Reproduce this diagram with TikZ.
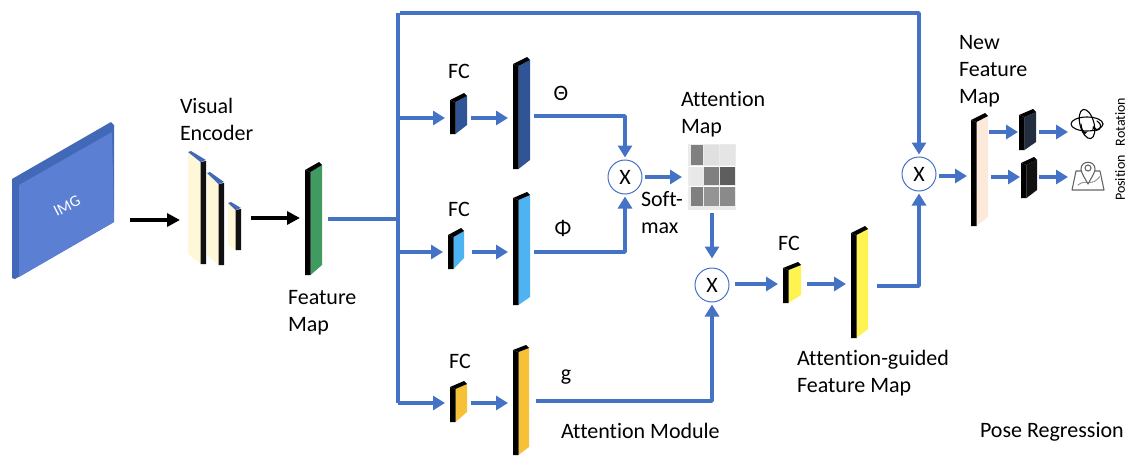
\documentclass[tikz,border=0pt]{standalone}
\usepackage{fontspec}
\setmainfont{Carlito}[Ligatures=NoCommon]
\usetikzlibrary{arrows.meta,calc}
\definecolor{flowblue}{HTML}{4472C4}
\definecolor{imgface}{HTML}{5B7FD3}
\definecolor{imgedge}{HTML}{4169B8}
\definecolor{cream}{HTML}{FFF8D8}
\definecolor{fmgreen}{HTML}{3F9B5F}
\definecolor{navy}{HTML}{2F5597}
\definecolor{skyb}{HTML}{4DB3F2}
\definecolor{amber}{HTML}{F7C137}
\definecolor{lemon}{HTML}{FFF44F}
\definecolor{peach}{HTML}{FCE9DA}
\definecolor{slate}{HTML}{222D3F}
\definecolor{ink}{HTML}{111111}
\tikzset{
  x=1pt,y=-1pt,
  flowline/.style={draw=flowblue,line width=3.6pt,line join=round},
  flow/.style={flowline,-{Triangle[length=12pt,width=14pt]},shorten <=4pt,shorten >=5pt},
  blackflow/.style={draw=black,line width=3.4pt,-{Triangle[length=13pt,width=13pt]},shorten <=4pt,shorten >=5pt},
  anchorbox/.style={inner sep=0pt,outer sep=0pt,minimum height=1pt},
  timesnode/.style={circle,draw=flowblue,line width=1pt,fill=white,minimum size=34pt,inner sep=0pt,font=\fontsize{22}{24}\selectfont},
  lab/.style={inner sep=0pt,outer sep=0pt,align=left,anchor=north west,font=\fontsize{22}{27}\selectfont},
  clab/.style={inner sep=0pt,outer sep=0pt,font=\fontsize{22}{26}\selectfont},
  icon/.style={draw=#1,line width=1.1pt,line cap=round,line join=round},
}
% name, xl, xr, y top-left, y top-right, y bottom-left, y bottom-right, y of node, face colour
\newcommand\slab[9]{%
  \fill[#9] ({#2+5.5},{#4+2}) -- ({#3},{#5+3}) -- ({#3},{#7}) -- ({#2+5.5},{#6}) -- cycle;
  \fill[black] ({#2},{#4}) -- ({#2+5.5},{#4+2}) -- ({#2+5.5},{#6}) -- ({#2},{#6}) -- cycle;
  \fill[black] ({#2},{#4}) -- ({#3-3},{#5}) -- ({#3},{#5+3}) -- ({#2+5.5},{#4+2}) -- cycle;
  \node[anchorbox,minimum width={(#3-#2)*1pt}] (#1) at ({(#2+#3)/2},{#8}) {};
}
% encoder block: face on the left, dark side on the right
\newcommand\eslab[8]{%
  \fill[cream] ({#2},{#4}) -- ({#3-5.5},{#5+2}) -- ({#3-5.5},{#7}) -- ({#2},{#6}) -- cycle;
  \fill[ink] ({#3-5.5},{#5+2}) -- ({#3},{#5+1}) -- ({#3},{#7}) -- ({#3-5.5},{#7}) -- cycle;
  \fill[imgedge] ({#2},{#4}) -- ({#2+3},{#4-1}) -- ({#3},{#5}) -- ({#3-5.5},{#5+2}) -- cycle;
  \node[anchorbox,minimum width={(#3-#2)*1pt}] (#1) at ({(#2+#3)/2},{#8}) {};
}
\begin{document}
\begin{tikzpicture}
\useasboundingbox (0,0) rectangle (1129,455);
% input image
\fill[imgedge] (12,179) -- (111,122) -- (114,125) -- (114,222) -- (15,279) -- (12,278) -- cycle;
\fill[imgface] (19,185) -- (112,132) -- (114,222) -- (19,277) -- cycle;
\node[anchorbox,minimum width=102pt] (img) at (63,220) {};
\node[clab,text=white,rotate=27,font=\fontsize{16}{18}\selectfont] (imgtext) at (67,206) {IMG};
% encoder
\eslab{enca}{188}{206}{152}{160}{254}{264}{220}
\eslab{encb}{207}{224}{173}{182}{255}{265}{220}
\eslab{encc}{228}{241}{203}{208}{245}{250}{218}
\node[lab] (encl) at (180,98) {Visual\\Encoder};
\slab{feat}{305}{322}{170}{162}{275}{265}{218}{fmgreen}
\node[lab] (featl) at (288,290) {Feature\\Map};
% branches
\slab{fca}{450}{467}{100}{93}{134}{125}{118}{navy}
\slab{biga}{513}{530}{64}{57}{169}{160}{118}{navy}
\slab{fcb}{448}{464}{235}{228}{269}{258}{252}{skyb}
\slab{bigb}{513}{530}{198}{192}{305}{297}{252}{skyb}
\slab{fcc}{450}{467}{387}{381}{422}{412}{403}{amber}
\slab{bigc}{513}{529}{350}{345}{455}{447}{403}{amber}
\node[clab] (fcal) at (459,71) {FC};
\node[clab] (fcbl) at (459,209) {FC};
\node[clab] (fccl) at (460,361) {FC};
\node[clab] (theta) at (561,93) {Θ};
\node[clab] (phi) at (563,228) {Φ};
\node[clab] (gl) at (566,377) {g};
\node[lab] (attmod) at (561,423) {Attention Module};
% product nodes
\node[timesnode] (xa) at (625,177) {X};
\node[timesnode] (xb) at (712,285) {X};
\node[timesnode] (xc) at (919,174) {X};
% attention map
\node[anchorbox,minimum width=48pt,minimum height=66pt,fill=black!8] (heat) at (712,177) {};
\fill[white] (688,165.5) rectangle (736,167);
\fill[white] (688,185.5) rectangle (736,187);
\fill[black!50] (691,145) rectangle (703,165);
\fill[black!12] (704,145) rectangle (719,165);
\fill[black!10] (720,145) rectangle (735,165);
\fill[black!9] (691,167) rectangle (703,185);
\fill[black!50] (704,167) rectangle (719,185);
\fill[black!63] (720,167) rectangle (735,185);
\fill[black!50] (691,187) rectangle (703,206);
\fill[black!42] (704,187) rectangle (719,206);
\fill[black!46] (720,187) rectangle (735,206);
\node[lab] (heatl) at (681,91) {Attention\\Map};
\node[lab] (softl) at (641,191) {Soft-\\max};
% attention-guided
\slab{fcd}{783}{801}{268}{262}{303}{295}{284}{lemon}
\slab{bigd}{851}{868}{233}{226}{338}{329}{284}{lemon}
\node[clab] (fcdl) at (789,243) {FC};
\node[lab] (guidel) at (797,350) {Attention-guided\\Feature Map};
% new feature map
\slab{newf}{971}{988}{120}{113}{226}{217}{176}{peach}
\node[lab] (newl) at (959,35) {New\\Feature\\Map};
\slab{dka}{1019}{1036}{115}{109}{150}{142}{132}{slate}
\slab{dkb}{1021}{1037}{163}{157}{198}{190}{177}{ink}
\node[anchorbox,minimum width=36pt,minimum height=34pt] (rot) at (1087,125) {};
\node[anchorbox,minimum width=36pt,minimum height=34pt] (pos) at (1088,178) {};
% rotation icon
\draw[icon=black] (1087,124) ellipse [x radius=16,y radius=7];
\draw[icon=black,rotate around={15:(1087,124)}] (1087,124) ellipse [x radius=7,y radius=15];
\draw[icon=black,-{Stealth[length=4pt,width=4.5pt]}] (1097,121) .. controls (1106,127) and (1096,134) .. (1093,126);
\draw[icon=black,-{Stealth[length=4pt,width=4.5pt]}] (1081,124) .. controls (1081,129) and (1084,133) .. (1087,132);
% position icon
\draw[icon=black!60,fill=white] (1076,171) -- (1100,171) -- (1104,190) -- (1072,190) -- cycle;
\draw[icon=black!45,densely dotted] (1078,185) .. controls (1086,178) and (1092,188) .. (1100,176);
\draw[icon=black!60,fill=white] (1088,184) .. controls (1083,175) and (1081,172) .. (1081,169) .. controls (1081,160) and (1095,160) .. (1095,169) .. controls (1095,172) and (1093,175) .. (1088,184) -- cycle;
\draw[icon=black!60] (1088,168) circle [radius=3];
\node[clab,rotate=90,font=\fontsize{14}{16}\selectfont] (rotl) at (1120,122) {Rotation};
\node[clab,rotate=90,font=\fontsize{14}{16}\selectfont] (posl) at (1120,178) {Position};
\node[lab] (posereg) at (980,422) {Pose Regression};
% junction coordinates
\coordinate (jt) at (398,13);
\coordinate (ja) at (398,118);
\coordinate (jm) at (398,219);
\coordinate (jb) at (398,252);
\coordinate (jc) at (398,403);
% connectors
\draw[blackflow,shorten <=16pt,shorten >=8pt] (img.east) -- (enca.west);
\draw[blackflow,shorten <=10pt,shorten >=5pt] (encc.east) -- (feat.west);
\draw[flowline,shorten <=6pt] (feat.east |- jm) -- (jm);
\draw[flowline] (jt) -- (jc);
\draw[flow,shorten <=1.5pt,shorten >=2pt] (jt) -| (xc.north);
\draw[flow,shorten <=0pt] (ja) -- (fca.west);
\draw[flow,shorten <=0pt] (jb) -- (fcb.west);
\draw[flow,shorten <=0pt] (jc) -- (fcc.west);
\draw[flow] (fca.east) -- (biga.west);
\draw[flow,shorten <=8pt] (fcb.east) -- (bigb.west);
\draw[flow] (fcc.east) -- (bigc.west);
\draw[flow,shorten >=2pt] ([yshift=2pt]biga.east) -| (xa.north);
\draw[flow,shorten >=2pt] (bigb.east) -| (xa.south);
\draw[flow,shorten >=2pt,shorten <=7pt] ([yshift=2pt]bigc.east) -| (xb.south);
\draw[flow,shorten <=2pt,shorten >=6pt] (xa.east) -- (heat.west);
\draw[flow,shorten <=3pt,shorten >=9pt] (heat.south) -- (xb.north);
\draw[flow,shorten <=5pt] (xb.east |- fcd) -- (fcd.west);
\draw[flow,shorten <=6pt] (fcd.east) -- (bigd.west);
\draw[flow,shorten >=2pt,shorten <=9pt] ([yshift=-2pt]bigd.east) -| (xc.south);
\draw[flow,shorten <=2pt,shorten >=4pt] (xc.east |- newf) -- (newf.west);
\draw[flow,shorten <=1pt,shorten >=1pt] (newf.east |- dka) -- (dka.west);
\draw[flow,shorten <=3pt,shorten >=1pt] (newf.east |- dkb) -- (dkb.west);
\draw[flow,shorten <=3pt,shorten >=1pt] (dka.east) -- (dka.east -| rot.west);
\draw[flow,shorten <=2pt,shorten >=2pt] (dkb.east) -- (dkb.east -| pos.west);
\end{tikzpicture}
\end{document}
